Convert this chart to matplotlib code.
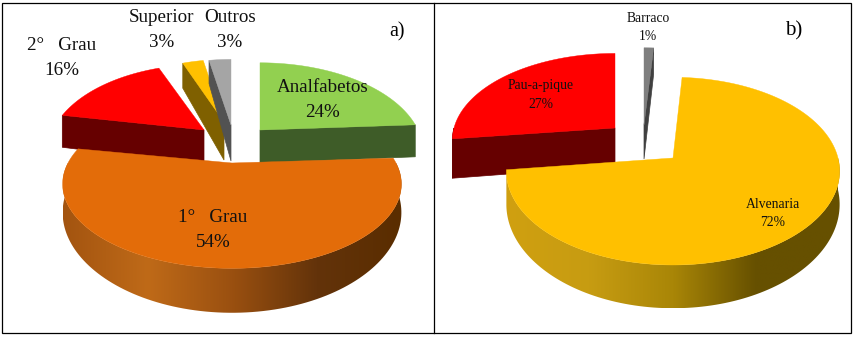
import matplotlib.pyplot as plt
from matplotlib.colors import LinearSegmentedColormap, to_rgb
from matplotlib.patches import Polygon, Rectangle
import numpy as np

plt.rcParams['font.family'] = ['Liberation Serif', 'DejaVu Serif']

# panel a
names_a = ['Analfabetos', '1°   Grau', '2°   Grau', 'Superior', 'Outros']
values_a = [24, 54, 16, 3, 3]
# panel b
names_b = ['Alvenaria', 'Pau-a-pique', 'Barraco']
values_b = [72, 27, 1]

# gradient for the front rim, left to right
orange_rim = ['#a35410', '#bf6a18', '#9a5010', '#63330a', '#5a2d00']
yellow_rim = ['#d0a010', '#c79c12', '#a98607', '#665000', '#665000']

# one dict per slice: apex in pixels, radii, thickness
style_a = [
    dict(apex=(260, 130), rx=158, ry=84, depth=33, top='#92d050', side='#3e5c28', z=1),
    dict(apex=(232, 163), rx=164, ry=79, depth=25, top='#e36c09', side=orange_rim, z=5),
    dict(apex=(204, 130), rx=151, ry=82, depth=35, top='#ff0000', side='#660000', z=2),
    dict(apex=(224, 122), rx=138, ry=78, depth=38, top='#ffc000', side='#7f6000', z=3),
    dict(apex=(231, 125), rx=146, ry=82, depth=36, top='#a5a5a5', side='#525252', z=4),
]
style_b = [
    dict(apex=(673, 158), rx=165, ry=92, depth=32, top='#ffc000', side=yellow_rim, z=5),
    dict(apex=(615, 128), rx=161, ry=85, depth=38, top='#ff0000', side='#660000', z=1),
    dict(apex=(644, 125), rx=175, ry=88, depth=34, top='#7f7f7f', side='#404040', z=2),
]
label_pos_a = [(323, 100), (213, 230), (62, 58), (162, 30), (230, 30)]
label_pos_b = [(773, 214), (541, 95), (648, 27)]


def rim(s, k, theta, frac=1.0):
    # perspective view of a point on the slice, theta clockwise from the top
    u = frac * np.sin(theta)
    v = frac * np.cos(theta)
    w = 1 + k * v
    x = s['apex'][0] + s['rx'] * u / w
    y = s['apex'][1] - s['ry'] * v / w
    return x, y, s['depth'] / w ** 2


def fill_side(ax, pts, colors, z):
    if isinstance(colors, str):
        ax.add_patch(Polygon(pts, closed=True, fc=colors, ec=colors, lw=0.5, zorder=z))
        return
    cmap = LinearSegmentedColormap.from_list('rim', [to_rgb(c) for c in colors])
    x0, x1 = pts[:, 0].min(), pts[:, 0].max()
    y0, y1 = pts[:, 1].min(), pts[:, 1].max()
    im = ax.imshow(np.linspace(0, 1, 256)[None, :], cmap=cmap, aspect='auto',
                   extent=(x0, x1, y1, y0), zorder=z)
    im.set_clip_path(Polygon(pts, closed=True, transform=ax.transData))


def draw_pie(ax, values, styles, start, k):
    edges = start + np.cumsum([0] + values) / sum(values) * 2 * np.pi
    for s, t0, t1 in zip(styles, edges[:-1], edges[1:]):
        z = s['z']
        # front rim, only the part turned to the viewer
        a0, a1 = max(t0, np.pi / 2), min(t1, 3 * np.pi / 2)
        if a1 > a0:
            th = np.linspace(a0, a1, 120)
            x, y, d = rim(s, k, th)
            pts = np.r_[np.c_[x, y], np.c_[x, y + d][::-1]]
            fill_side(ax, pts, s['side'], z)
        # cut faces that look down
        for t, show in ((t0, np.sin(t0) < -1e-6), (t1, np.sin(t1) > 1e-6)):
            if show:
                x, y, d = rim(s, k, t)
                ax_, ay_ = s['apex']
                pts = [(ax_, ay_), (x, y), (x, y + d), (ax_, ay_ + s['depth'])]
                face = s['side'] if isinstance(s['side'], str) else s['side'][-1]
                ax.add_patch(Polygon(pts, closed=True, fc=face, ec=face, lw=0.5, zorder=z))
        th = np.linspace(t0, t1, 200)
        x, y, _ = rim(s, k, th)
        pts = np.r_[[s['apex']], np.c_[x, y]]
        ax.add_patch(Polygon(pts, closed=True, fc=s['top'], ec=s['top'], lw=0.3, zorder=z + 0.5))


fig = plt.figure(figsize=(8.56, 3.39), dpi=100)
ax = fig.add_axes([0, 0, 1, 1])

draw_pie(ax, values_a, style_a, 0.0, 0.25)
draw_pie(ax, values_b, style_b, 0.01 * 2 * np.pi, 0.14)

ax.set_xlim(0, 856)
ax.set_ylim(339, 0)
ax.axis('off')

for name, val, pos in zip(names_a, values_a, label_pos_a):
    ax.text(pos[0], pos[1], f'{name}\n{val}%', fontsize=13.7, ha='center', va='center',
            linespacing=1.68, color='#111111', zorder=10)
for name, val, pos in zip(names_b, values_b, label_pos_b):
    ax.text(pos[0], pos[1], f'{name}\n{val}%', fontsize=9.8, ha='center', va='center',
            linespacing=1.5, color='#111111', zorder=10)
ax.text(397, 32, 'a)', fontsize=14.5, ha='center', va='center', zorder=10)
ax.text(794, 31, 'b)', fontsize=15, ha='center', va='center', zorder=10)

# frame and divider
ax.add_patch(Rectangle((2.5, 2.5), 849, 330.5, fc='none', ec='black', lw=0.9, zorder=11))
ax.plot([434, 434], [2.5, 333], c='black', lw=0.9, zorder=11)

fig.savefig('out.png', dpi=100)
